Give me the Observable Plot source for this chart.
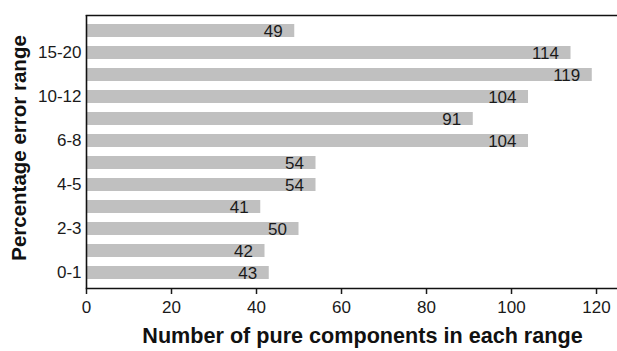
<!DOCTYPE html>
<html><head><meta charset="utf-8">
<script src="https://cdn.jsdelivr.net/npm/d3@7"></script>
<script src="https://cdn.jsdelivr.net/npm/@observablehq/plot@0.6"></script>
<style>body{margin:0;background:#fff;} svg{display:block;}</style>
</head><body><div id="chart"></div>
<script>
const categories = ["0-1","1-2","2-3","3-4","4-5","5-6","6-8","8-10","10-12","12-15","15-20",">20"];
const counts = [43, 42, 50, 41, 54, 54, 104, 91, 104, 119, 114, 49];
const yTickLabels = ["0-1","2-3","4-5","6-8","10-12","15-20"];
const xTicks = [0, 20, 40, 60, 80, 100, 120];
const xLabel = "Number of pure components in each range";
const yLabel = "Percentage error range";

const data = categories.map((c, i) => ({range: c, n: counts[i]}));

const chart = Plot.plot({
  width: 617, height: 351,
  marginTop: 15, marginBottom: 63, marginLeft: 86, marginRight: 1,
  style: {fontFamily: "'Liberation Sans', Arial, sans-serif", fontSize: "17px", color: "#1a1a1a", background: "#fff"},
  x: {domain: [0, 124.7]},
  y: {domain: categories.slice().reverse(), paddingInner: 0.43, paddingOuter: 0.2},
  marks: [
    Plot.barX(data, {x: "n", y: "range", fill: "#c0c0c0"}),
    Plot.text(data, {x: "n", y: "range", text: d => String(d.n), textAnchor: "end", dx: -12, dy: 1, fontSize: 17, fill: "#1a1a1a"}),
    Plot.axisX({ticks: xTicks, tickSize: 6, tickPadding: 6, fontSize: 17, label: null, strokeWidth: 1.5}),
    Plot.axisY({ticks: yTickLabels, tickSize: 0, tickPadding: 5, fontSize: 17, label: null}),
    Plot.ruleX([0], {strokeWidth: 1.6, stroke: "#111"}),
    Plot.frame({anchor: "top", strokeWidth: 1.6, stroke: "#111"}),
    Plot.frame({anchor: "bottom", strokeWidth: 1.6, stroke: "#111"}),
    Plot.text([yLabel], {text: d => d, frameAnchor: "left", textAnchor: "middle", lineAnchor: "middle", rotate: -90, dx: -67, dy: -4, fontSize: 20.5, fontWeight: "bold", fill: "#111"}),
    Plot.text([xLabel], {text: d => d, frameAnchor: "bottom", textAnchor: "middle", lineAnchor: "middle", dx: 11, dy: 48, fontSize: 21.6, fontWeight: "bold", fill: "#111"})
  ]
});
document.getElementById("chart").append(chart);
</script>
</body></html>
